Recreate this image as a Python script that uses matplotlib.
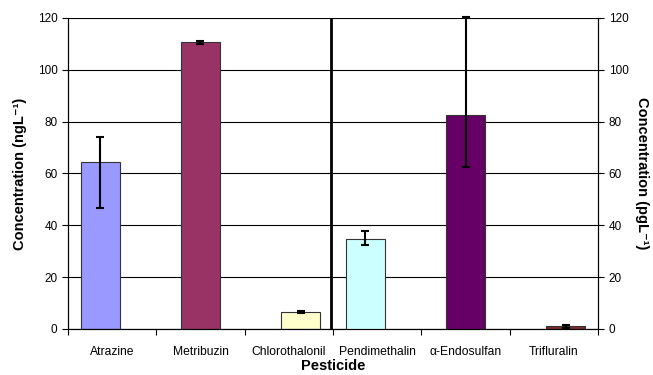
import matplotlib
matplotlib.use('Agg')
import matplotlib.pyplot as plt
import numpy as np

plt.rcParams['font.family'] = ['Liberation Sans', 'DejaVu Sans']

# data
pesticides = ['Atrazine', 'Metribuzin', 'Chlorothalonil',
              'Pendimethalin', 'α-Endosulfan', 'Trifluralin']
conc_ng = [64.3, 110.6, 6.4]          # ngL-1, left axis
err_ng_low = [17.7, 0.5, 0.4]
err_ng_high = [9.8, 0.5, 0.4]
conc_pg = [34.8, 82.4, 1.0]           # pgL-1, right axis
err_pg_low = [2.2, 19.8, 0.5]
err_pg_high = [3.1, 38.1, 0.5]

colors = ['#9999FF', '#993366', '#FFFFCC', '#CCFFFF', '#660066', '#7F2A2A']

# Excel cluster offsets inside each category
OFFSETS = [-0.135, 0.0, 0.135]
BAR_W = 0.44

fig = plt.figure(figsize=(6.53, 3.75), dpi=100)
ax = fig.add_axes([0.104, 0.1227, 0.812, 0.8293])
ax2 = ax.twinx()

x = np.arange(len(pesticides))
n_ng = len(conc_ng)

err_kw = dict(ecolor='black', elinewidth=1.5, capsize=3.2, capthick=1.5)

ax.bar(x[:n_ng] + OFFSETS, conc_ng, width=BAR_W, color=colors[:n_ng],
       edgecolor='#333333', linewidth=0.8, zorder=2)
ax.errorbar(x[:n_ng] + OFFSETS, conc_ng, yerr=[err_ng_low, err_ng_high],
            fmt='none', zorder=3, clip_on=False, **err_kw)

ax2.bar(x[n_ng:] + OFFSETS, conc_pg, width=BAR_W, color=colors[n_ng:],
        edgecolor='#333333', linewidth=0.8, zorder=2)
ax2.errorbar(x[n_ng:] + OFFSETS, conc_pg, yerr=[err_pg_low, err_pg_high],
             fmt='none', zorder=3, clip_on=False, **err_kw)

# separator between the two groups
ax2.axvline(n_ng - 0.5 - 0.02, color='black', lw=2, zorder=4)

for a in (ax, ax2):
    a.set_xlim(-0.5, len(pesticides) - 0.5)
    a.set_ylim(0, 120)
    a.set_yticks(np.arange(0, 121, 20))
    a.tick_params(axis='y', labelsize=8.5, length=4, width=0.8, colors='black')
    for s in a.spines.values():
        s.set_linewidth(0.8)

ax.spines['top'].set_visible(False)
ax2.spines['top'].set_visible(False)
ax.yaxis.grid(True, color='black', lw=0.8, zorder=0)
ax.set_axisbelow(True)

# category tick marks at boundaries, labels at centres
ax.set_xticks(np.arange(len(pesticides) + 1) - 0.5)
ax.set_xticklabels([])
ax.set_xticks(x, minor=True)
ax.set_xticklabels(pesticides, minor=True, fontsize=8.7)
ax.tick_params(axis='x', which='major', length=4, width=0.8)
ax.tick_params(axis='x', which='minor', length=0, pad=12)

ax.set_xlabel('Pesticide', fontsize=10.5, fontweight='bold', labelpad=1)
ax.set_ylabel('Concentration (ngL⁻¹)', fontsize=10.5,
              fontweight='bold', labelpad=8)
ax2.set_ylabel('Concentration (pgL⁻¹)', fontsize=10.5,
               fontweight='bold', rotation=270, labelpad=15)

fig.savefig('out.png', dpi=100, facecolor='white')
